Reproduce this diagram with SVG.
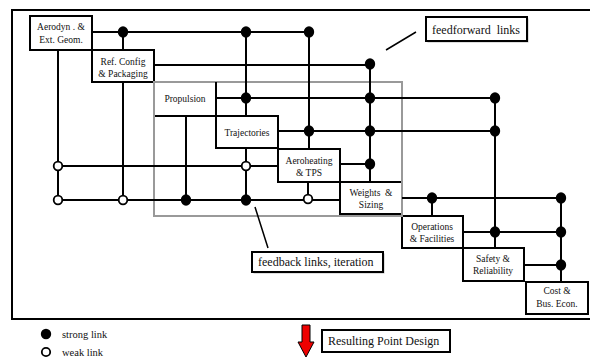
<svg xmlns="http://www.w3.org/2000/svg" width="590" height="358" viewBox="0 0 590 358">
<style>
.bx{fill:#fff;stroke:#000;stroke-width:2}
.t{font-family:"Liberation Serif","Times New Roman",serif;font-size:9.5px;fill:#111;text-anchor:middle}
.lbl{font-family:"Liberation Serif","Times New Roman",serif;font-size:12px;fill:#111}
.leg{font-family:"Liberation Serif","Times New Roman",serif;font-size:10.5px;fill:#111}
.ln{stroke:#000;stroke-width:2;fill:none}
.s{fill:#000}
.w{fill:#fff;stroke:#000;stroke-width:1.8}
</style>
<rect width="590" height="358" fill="#fff"/>
<rect id="frame" x="12" y="10" width="579" height="309" fill="none" stroke="#000" stroke-width="2"/>

<g id="nodes">
<g id="aerodyn"><rect class="bx" x="30" y="16" width="62" height="34"/><text class="t" x="61" y="30">Aerodyn . &amp;</text><text class="t" x="61" y="43.3">Ext. Geom.</text></g>
<g id="refconfig"><rect class="bx" x="92" y="50" width="62" height="32"/><text class="t" x="123" y="65">Ref. Config</text><text class="t" x="123" y="76.6">&amp; Packaging</text></g>
<g id="propulsion"><rect class="bx" x="154" y="82" width="62" height="34"/><text class="t" x="185" y="102.3">Propulsion</text></g>
<g id="trajectories"><rect class="bx" x="216" y="116" width="62" height="32"/><text class="t" x="247" y="135.8">Trajectories</text></g>
<g id="aeroheating"><rect class="bx" x="278" y="149" width="62" height="33"/><text class="t" x="309" y="164">Aeroheating</text><text class="t" x="309" y="176">&amp; TPS</text></g>
<g id="weights"><rect class="bx" x="340" y="182" width="62" height="32"/><text class="t" x="371" y="196" xml:space="preserve">Weights  &amp;</text><text class="t" x="371" y="207.6">Sizing</text></g>
<g id="operations"><rect class="bx" x="402" y="216" width="61" height="32"/><text class="t" x="432" y="230">Operations</text><text class="t" x="432" y="242.3">&amp; Facilities</text></g>
<g id="safety"><rect class="bx" x="463" y="248" width="61" height="33"/><text class="t" x="493" y="262.3">Safety &amp;</text><text class="t" x="493" y="274">Reliability</text></g>
<g id="cost"><rect class="bx" x="526" y="282" width="62" height="32"/><text class="t" x="557" y="294">Cost &amp;</text><text class="t" x="557" y="306.6">Bus. Econ.</text></g>
</g>

<rect id="iteration-region" x="154" y="82" width="248" height="134" fill="none" stroke="#999" stroke-width="2"/>

<g id="connectors">
<path class="ln" d="M92 32H309M123 32V50M246 32V116M309 32V149
M154 65H370M370 65V182
M216 82V148M216 98H495M495 98V248
M278 131H495
M340 164H370
M58 50V200M58 166H278M123 82V200M186 116V200M246 148V200M58 200H340M308 182V200
M402 198H561M432 198V216M561 198V282
M463 232H561M524 265H561"/>
<ellipse class="s" cx="123" cy="32" rx="5.2" ry="5.7"/>
<ellipse class="s" cx="246" cy="32" rx="5.2" ry="5.7"/>
<ellipse class="s" cx="309" cy="32" rx="5.2" ry="5.7"/>
<ellipse class="s" cx="370" cy="64" rx="5.2" ry="5.7"/>
<ellipse class="s" cx="246" cy="98" rx="5.2" ry="5.7"/>
<ellipse class="s" cx="370" cy="98" rx="5.2" ry="5.7"/>
<ellipse class="s" cx="495" cy="98" rx="5.2" ry="5.7"/>
<ellipse class="s" cx="309" cy="131" rx="5.2" ry="5.7"/>
<ellipse class="s" cx="370" cy="131" rx="5.2" ry="5.7"/>
<ellipse class="s" cx="495" cy="131" rx="5.2" ry="5.7"/>
<ellipse class="s" cx="370" cy="164" rx="5.2" ry="5.7"/>
<ellipse class="s" cx="186" cy="200" rx="5.2" ry="5.7"/>
<ellipse class="s" cx="246" cy="200" rx="5.2" ry="5.7"/>
<ellipse class="s" cx="432" cy="198" rx="5.2" ry="5.7"/>
<ellipse class="s" cx="561" cy="198" rx="5.2" ry="5.7"/>
<ellipse class="s" cx="495" cy="232" rx="5.2" ry="5.7"/>
<ellipse class="s" cx="561" cy="232" rx="5.2" ry="5.7"/>
<ellipse class="s" cx="561" cy="265" rx="5.2" ry="5.7"/>
<circle class="w" cx="58" cy="166" r="4.3"/>
<circle class="w" cx="246" cy="166" r="4.3"/>
<circle class="w" cx="58" cy="200" r="4.3"/>
<circle class="w" cx="123" cy="200" r="4.3"/>
<circle class="w" cx="308" cy="199" r="4.3"/>
<path stroke="#000" stroke-width="1.5" d="M386 50L416 32M255 207L268 248"/>
</g>

<g id="feedforward-label">
<rect x="427.5" y="18.5" width="101" height="24" fill="#bbb"/>
<rect x="426" y="17" width="101" height="24" fill="#fff" stroke="#000" stroke-width="2"/>
<text class="lbl" x="432" y="33.5" xml:space="preserve">feedforward  links</text>
</g>
<g id="feedback-label">
<rect x="253.5" y="253.5" width="131" height="20" fill="#bbb"/>
<rect x="252" y="252" width="131" height="20" fill="#fff" stroke="#000" stroke-width="2"/>
<text class="lbl" x="258" y="266">feedback links, iteration</text>
</g>

<g id="legend">
<ellipse class="s" cx="46" cy="334" rx="5.2" ry="5.2"/>
<text class="leg" x="62" y="337.5">strong link</text>
<circle class="w" cx="46" cy="352" r="4.2"/>
<text class="leg" x="62" y="355.5">weak link</text>
</g>

<g id="result">
<path d="M302 325H310V342H314L306 357L298 342H302Z" fill="#e00" stroke="#000" stroke-width="1"/>
<rect x="322" y="330" width="128" height="22" fill="#fff" stroke="#000" stroke-width="2"/>
<text class="lbl" x="328" y="345">Resulting Point Design</text>
</g>
</svg>
